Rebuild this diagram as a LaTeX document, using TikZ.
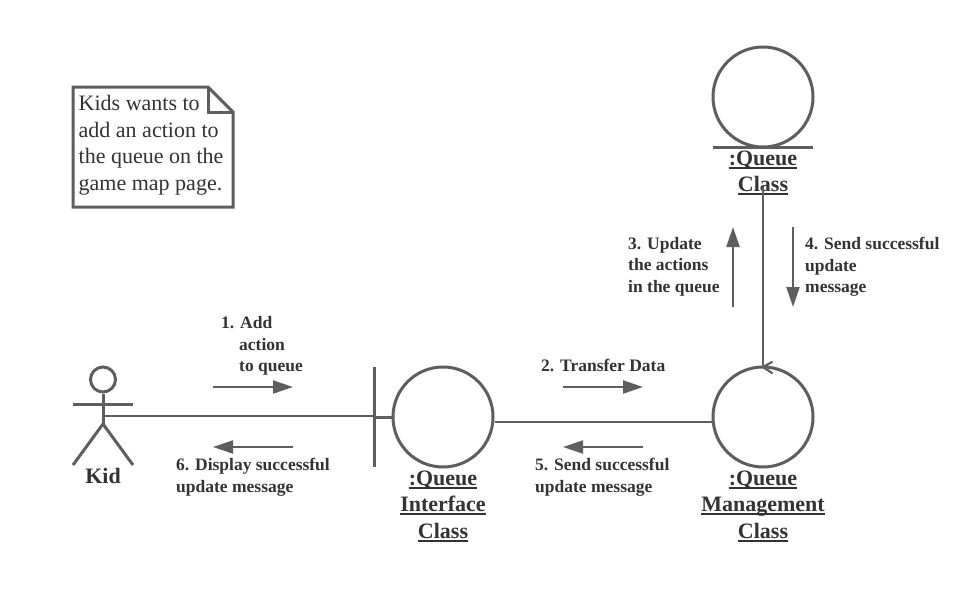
\documentclass[tikz,border=0pt]{standalone}
\usepackage{fontspec}
\setmainfont{Liberation Serif}
\usetikzlibrary{arrows.meta}
\definecolor{ln}{HTML}{5E5E5E}
\definecolor{tx}{HTML}{333333}
\newcommand{\ul}[1]{\leavevmode\setbox0\hbox{#1}\rlap{\rule[-3.4pt]{\wd0}{2pt}}\box0 }
\tikzset{
  x=1pt,y=-1pt,
  obj/.style={circle,draw=ln,line width=3pt,minimum size=100pt,inner sep=0pt,fill=white},
  wire/.style={draw=ln,line width=2.2pt},
  msg/.style={draw=ln,line width=2pt,-{Triangle[length=20pt,width=13pt,fill=ln]}},
  lab/.style={font=\fontsize{17.5}{21.5}\selectfont\bfseries,text=tx,align=left,anchor=north west,inner sep=0pt},
  cls/.style={font=\fontsize{22}{26.6}\selectfont\bfseries,text=tx,align=center,anchor=north,inner sep=0pt},
  notetext/.style={font=\fontsize{22}{26.6}\selectfont,text=tx,align=left,anchor=north west,inner sep=0pt},
}
\begin{document}
\begin{tikzpicture}
\useasboundingbox (0,0) rectangle (975,600);
\fill[white] (0,0) rectangle (975,600);
% note
\draw[ln,line width=3pt,line join=miter] (73,87) -- (208,87) -- (233,112) -- (233,207) -- (73,207) -- cycle;
\draw[ln,line width=3pt] (208,87) -- (208,112) -- (233,112);
\node[notetext] (note) at (78.5,95) {Kids wants to\\add an action to\\the queue on the\\game map page.};
% objects
\node[obj] (queue) at (763,97) {};
\node[obj] (iface) at (443,417) {};
\node[obj] (mgmt) at (763,417) {};
% entity underline and boundary bar
\coordinate (qL) at (713,147); \coordinate (qR) at (813,147);
\draw[wire,line width=3pt] (qL) -- (qR);
\coordinate (bT) at (374,367); \coordinate (bB) at (374,467);
\draw[wire,line width=3pt] (bT) -- (bB);
\coordinate (bM) at (374,417.5);
\draw[wire,line width=3pt] (bM) -- (iface.west |- bM);
% actor
\node[circle,draw=ln,line width=3pt,minimum size=25pt,inner sep=0pt] (head) at (103,379.5) {};
\coordinate (hip) at (103,424); \coordinate (armL) at (73,404); \coordinate (armR) at (133,404);
\coordinate (footL) at (73,465); \coordinate (footR) at (133,465);
\draw[wire,line width=3pt] (head.south) -- (hip);
\draw[wire,line width=3pt] (armL) -- (armR);
\draw[wire,line width=3pt,line join=round] (footL) -- (hip) -- (footR);
\node[font=\fontsize{22}{26}\selectfont\bfseries,text=tx,inner sep=0pt,anchor=north] (kid) at (103,468) {Kid};
% messages
\coordinate (m1a) at (213,387); \coordinate (m1b) at (293,387);
\draw[msg] (m1a) -- (m1b);
\coordinate (m6a) at (293,447); \coordinate (m6b) at (213,447);
\draw[msg] (m6a) -- (m6b);
\coordinate (m2a) at (563,387); \coordinate (m2b) at (643,387);
\draw[msg] (m2a) -- (m2b);
\coordinate (m5a) at (643,447); \coordinate (m5b) at (563,447);
\draw[msg] (m5a) -- (m5b);
\coordinate (m3a) at (733,307); \coordinate (m3b) at (733,227);
\draw[msg] (m3a) -- (m3b);
\coordinate (m4a) at (793,227); \coordinate (m4b) at (793,307);
\draw[msg] (m4a) -- (m4b);
% message labels
\node[lab] (l1) at (221,316.5) {1. Add\\\hspace{18pt}action\\\hspace{18pt}to queue};
\node[lab] (l2) at (541,359) {2. Transfer Data};
\node[lab] (l3) at (628,237) {3. Update\\the actions\\in the queue};
\node[lab] (l4) at (805,237) {4. Send successful\\update\\message};
\node[lab] (l5) at (535,458) {5. Send successful\\update message};
\node[lab] (l6) at (176,458) {6. Display successful\\update message};
% class labels
\node[cls] (c1) at (763,150.5) {\ul{:Queue}\\\ul{Class}};
\node[cls] (c2) at (443,470.5) {\ul{:Queue}\\\ul{Interface}\\\ul{Class}};
\node[cls] (c3) at (763,470.5) {\ul{:Queue}\\\ul{Management}\\\ul{Class}};
% connectors
\coordinate (neck) at (103,416);
\coordinate (bN) at (374,416);
\draw[wire] (neck) -- (bN);
\draw[wire] (iface.east |- 0,422) -- (mgmt.west |- 0,422);
\draw[wire] (queue.south |- 0,187) -- (mgmt.north);
\draw[wire,line cap=round] (772,362) -- (763,367) -- (772,373);
\end{tikzpicture}
\end{document}
